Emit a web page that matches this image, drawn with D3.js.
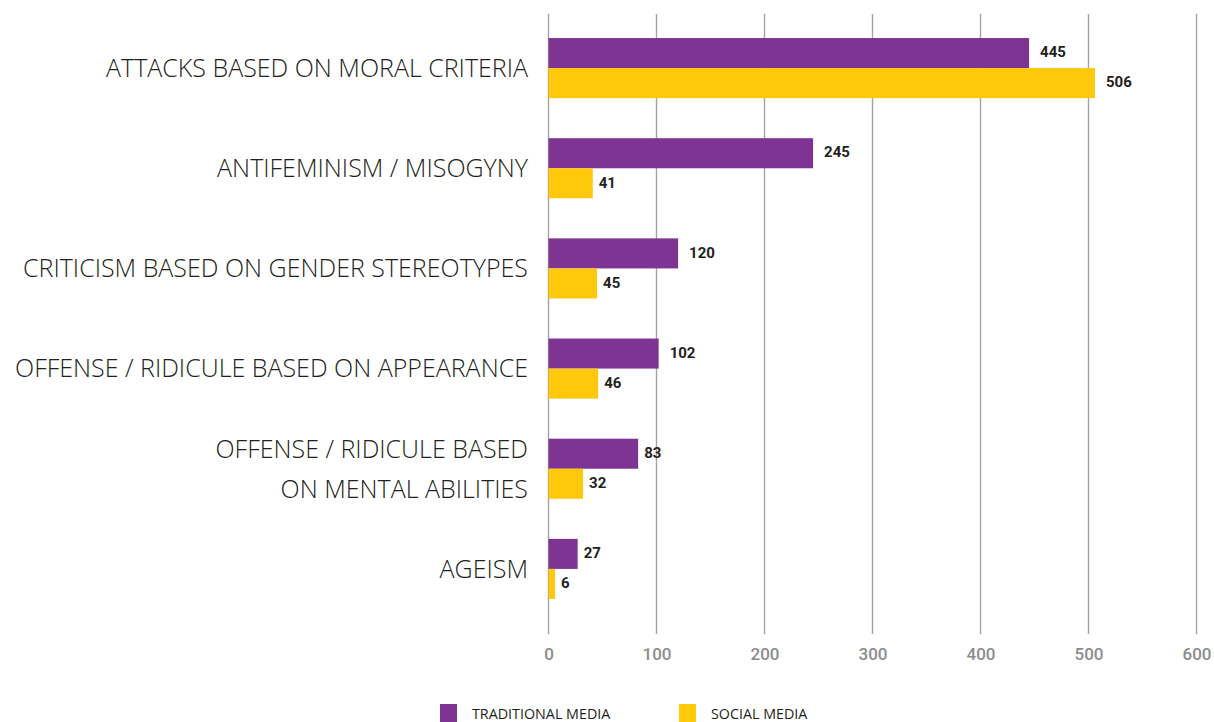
<!DOCTYPE html>
<html>
<head>
<meta charset="utf-8">
<script src="https://cdn.jsdelivr.net/npm/d3@7"></script>
<style>
  html, body { margin: 0; padding: 0; background: #fff; }
  svg { display: block; }
</style>
</head>
<body>
<svg id="chart" width="1214" height="722"></svg>
<script>
const categories = [
  ["ATTACKS BASED ON MORAL CRITERIA"],
  ["ANTIFEMINISM / MISOGYNY"],
  ["CRITICISM BASED ON GENDER STEREOTYPES"],
  ["OFFENSE / RIDICULE BASED ON APPEARANCE"],
  ["OFFENSE / RIDICULE BASED", "ON MENTAL ABILITIES"],
  ["AGEISM"]
];
const traditionalMedia = [445, 245, 120, 102, 83, 27];
const socialMedia = [506, 41, 45, 46, 32, 6];
const seriesNames = ["TRADITIONAL MEDIA", "SOCIAL MEDIA"];
const xTicks = [0, 100, 200, 300, 400, 500, 600];

const colors = ["#7e3492", "#ffc80b"];
const series = [traditionalMedia, socialMedia];

const svg = d3.select("#chart");
const plot = { left: 548.5, right: 1196.5, top: 18, bottom: 619 };

const x = d3.scaleLinear().domain([0, 600]).range([plot.left, plot.right]);
const y = d3.scaleBand().domain(d3.range(categories.length))
  .range([plot.top, plot.bottom]).paddingInner(0.4).paddingOuter(0.2);
const ySub = d3.scaleBand().domain([0, 1]).range([0, y.bandwidth()]);

// gridlines
svg.append("g").selectAll("line").data(xTicks).join("line")
  .attr("x1", d => x(d)).attr("x2", d => x(d))
  .attr("y1", 14).attr("y2", 634)
  .attr("stroke", "#a3a3a3").attr("stroke-width", 1.4);

// axis tick labels
const xAxis = d3.axisBottom(x).tickValues(xTicks).tickSize(0).tickPadding(0);
const ax = svg.append("g").attr("transform", "translate(0,650)").call(xAxis);
ax.select(".domain").remove();
ax.selectAll("text")
  .attr("font-family", "Roboto, sans-serif")
  .attr("font-size", 17).attr("font-weight", 500)
  .attr("fill", "#8c8c8c").attr("dy", "0.6em");

// bars
const groups = svg.append("g").selectAll("g").data(categories).join("g")
  .attr("transform", (d, i) => `translate(0,${y(i)})`);

series.forEach((vals, s) => {
  groups.append("rect")
    .attr("x", x(0))
    .attr("y", ySub(s))
    .attr("width", (d, i) => x(vals[i]) - x(0))
    .attr("height", ySub.bandwidth())
    .attr("fill", colors[s]);
  groups.append("text")
    .attr("x", (d, i) => x(vals[i]) + (String(vals[i]).length > 2 ? 11 : 6))
    .attr("y", ySub(s) + ySub.bandwidth() / 2 - 1)
    .attr("dy", "0.35em")
    .attr("font-family", "Roboto, sans-serif")
    .attr("font-weight", 700).attr("font-size", 15)
    .attr("fill", "#231f20")
    .text((d, i) => vals[i]);
});

// category labels
const labels = svg.append("g").selectAll("text").data(categories).join("text")
  .attr("text-anchor", "end")
  .attr("x", 528)
  .attr("y", (d, i) => y(i) + y.bandwidth() / 2)
  .attr("font-family", "'Open Sans', sans-serif")
  .attr("font-weight", 300).attr("font-size", 25)
  .attr("fill", "#231f20");
labels.each(function(d) {
  const t = d3.select(this);
  const n = d.length;
  d.forEach((line, k) => {
    t.append("tspan").attr("x", 528)
      .attr("y", +t.attr("y") + (k - (n - 1) / 2) * 40)
      .attr("dy", "0.35em")
      .text(line);
  });
});

// legend
const legendX = [440, 679];
const legend = svg.append("g").selectAll("g").data(seriesNames).join("g")
  .attr("transform", (d, i) => `translate(${legendX[i]},704)`);
legend.append("rect").attr("width", 17).attr("height", 18)
  .attr("fill", (d, i) => colors[i]);
legend.append("text").attr("x", 32).attr("y", 10).attr("dy", "0.35em")
  .attr("font-family", "'Open Sans', sans-serif").attr("font-size", 14.3)
  .attr("fill", "#231f20")
  .text(d => d);
</script>
</body>
</html>
